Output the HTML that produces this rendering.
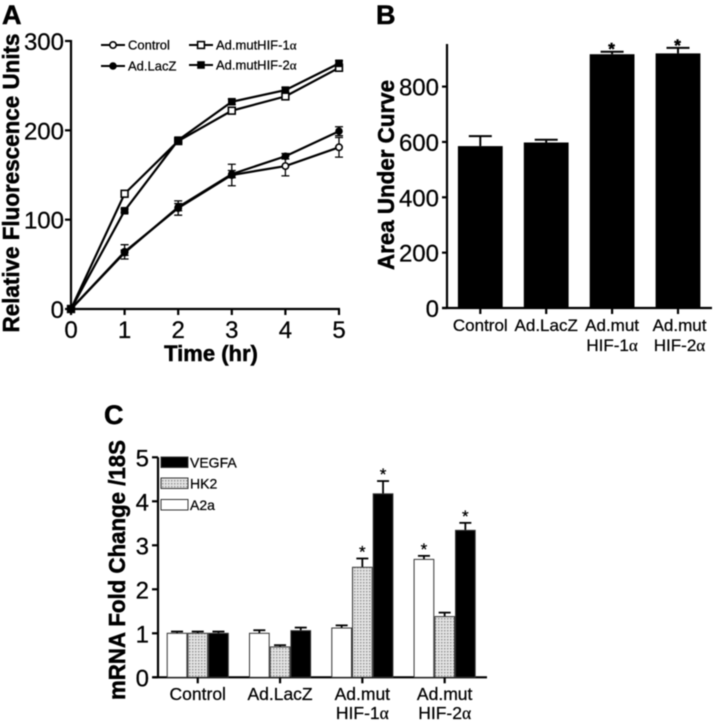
<!DOCTYPE html>
<html>
<head>
<meta charset="utf-8">
<style>
html,body{margin:0;padding:0;background:#fff;}
svg{display:block;filter:blur(0.45px);}
text{font-family:"Liberation Sans",sans-serif;fill:#000;stroke:#000;stroke-width:0.25px;}
text[font-weight="bold"]{stroke-width:0.5px;}
</style>
</head>
<body>
<svg id="fig" width="714" height="722" viewBox="0 0 714 722" xmlns="http://www.w3.org/2000/svg">
<defs>
<pattern id="dots" width="3" height="3" patternUnits="userSpaceOnUse">
<rect width="3" height="3" fill="#e4e4e4"></rect>
<rect x="0" y="0" width="1.5" height="1.5" fill="#9a9a9a"></rect>
</pattern>
</defs>
</svg>
<script>
// Panel A data
const timeCategories = [0, 1, 2, 3, 4, 5];
const controlValues = [0, 64, 113, 150, 160, 181];
const controlErrors = [0, 8, 8, 12, 11, 11];
const lacZValues = [0, 63, 114, 151, 171, 199];
const lacZErrors = [0, 3, 4, 4, 3, 5];
const mut1Values = [0, 129, 188, 222, 238, 270];
const mut1Errors = [0, 2, 2, 3, 3, 3];
const mut2Values = [0, 110, 189, 232, 245, 275];
const mut2Errors = [0, 2, 2, 3, 3, 3];
const aYTicks = [0, 100, 200, 300];
// Panel B data
const aucCategories = [["Control"], ["Ad.LacZ"], ["Ad.mut", "HIF-1"], ["Ad.mut", "HIF-2"]];
const aucValues = [585, 598, 917, 920];
const aucErrors = [36, 10, 9, 20];
const aucStars = [false, false, true, true];
const bYTicks = [0, 200, 400, 600, 800];
// Panel C data
const mrnaCategories = [["Control"], ["Ad.LacZ"], ["Ad.mut", "HIF-1"], ["Ad.mut", "HIF-2"]];
const a2aValues = [1, 1, 1.12, 2.68];
const a2aErrors = [0.04, 0.07, 0.06, 0.08];
const a2aStars = [false, false, false, true];
const hk2Values = [1, 0.69, 2.5, 1.38];
const hk2Errors = [0.04, 0.04, 0.2, 0.09];
const hk2Stars = [false, false, true, false];
const vegfaValues = [1, 1.06, 4.17, 3.34];
const vegfaErrors = [0.04, 0.07, 0.29, 0.17];
const vegfaStars = [false, false, true, true];
const cYTicks = [0, 1, 2, 3, 4, 5];

const svg = document.getElementById('fig');
const NS = 'http://www.w3.org/2000/svg';
function mk(tag, attrs, parent) {
  const n = document.createElementNS(NS, tag);
  for (const k in attrs) n.setAttribute(k, attrs[k]);
  (parent || svg).appendChild(n);
  return n;
}
function line(x1, y1, x2, y2, w, parent) {
  return mk('line', {x1: x1, y1: y1, x2: x2, y2: y2, stroke: '#000', 'stroke-width': w}, parent);
}
function label(str, x, y, size, anchor, bold, parent) {
  const t = mk('text', {x: x, y: y, 'font-size': size, 'text-anchor': anchor || 'start', 'font-weight': bold ? 'bold' : 'normal'}, parent);
  t.textContent = str;
  return t;
}
function alpha(t) {
  const s = mk('tspan', {style: 'font-family:"Liberation Serif",serif'}, t);
  s.textContent = 'α';
}
function vTitle(str, cx, cy, size, len) {
  const t = mk('text', {transform: 'translate(' + cx + ',' + cy + ') rotate(-90)', 'font-size': size, 'font-weight': 'bold', 'text-anchor': 'middle', textLength: len, lengthAdjust: 'spacingAndGlyphs'});
  t.textContent = str;
  return t;
}

// ---------- Panel letters ----------
const letterA = label('A', 2, 24, 27, 'start', true);


const letterB = label('B', 376, 24, 27, 'start', true);


const letterC = label('C', 104, 424, 27, 'start', true);



// ---------- Panel A ----------
const ax = v => 71 + v * 53.6;
const ay = v => 309 - v * (268 / 300);
const panelA = mk('g', {});


const aYAxis = line(71, ay(300) - 1, 71, 310, 2.2, panelA);


const aXAxis = line(70, 309, ax(5) + 1, 309, 2.2, panelA);


aYTicks.forEach(v => {
  const tick = line(65, ay(v), 71, ay(v), 2.2, panelA);
  
  
  const lab = label(String(v), 64, ay(v) + 9, 24, 'end', false, panelA);
  
  
});
timeCategories.forEach(v => {
  const tick = line(ax(v), 309, ax(v), 315, 2.2, panelA);
  
  
  const lab = label(String(v), ax(v), 338, 24, 'middle', false, panelA);
  
  
});
const aYTitle = vTitle('Relative Fluorescence Units', 19, 183, 23, 299);


const aXTitle = label('Time (hr)', 211, 361, 22, 'middle', true);



function marker(kind, x, y, parent) {
  if (kind === 'open-circle') return mk('circle', {cx: x, cy: y, r: 3.2, fill: '#fff', stroke: '#000', 'stroke-width': 1.6}, parent);
  if (kind === 'solid-circle') return mk('circle', {cx: x, cy: y, r: 3.8, fill: '#000'}, parent);
  if (kind === 'open-square') return mk('rect', {x: x - 3.4, y: y - 3.4, width: 6.8, height: 6.8, fill: '#fff', stroke: '#000', 'stroke-width': 1.6}, parent);
  return mk('rect', {x: x - 3.8, y: y - 3.8, width: 7.6, height: 7.6, fill: '#000'}, parent);
}
function drawSeries(name, values, errors, kind) {
  const g = mk('g', {}, panelA);
  
  
  const pts = values.map((v, i) => ax(timeCategories[i]) + ',' + ay(v)).join(' ');
  const path = mk('polyline', {points: pts, fill: 'none', stroke: '#000', 'stroke-width': 2.2}, g);
  
  
  values.forEach((v, i) => {
    const x = ax(timeCategories[i]);
    const e = errors[i];
    if (e > 0) {
      const bar = mk('path', {d: 'M' + (x - 4) + ' ' + ay(v + e) + 'H' + (x + 4) + 'M' + x + ' ' + ay(v + e) + 'V' + ay(v - e) + 'M' + (x - 4) + ' ' + ay(v - e) + 'H' + (x + 4), stroke: '#000', 'stroke-width': 1.3, fill: 'none'}, g);
      
      
    }
    const m = marker(kind, x, ay(v), g);
    
    
  });
}
drawSeries('control', controlValues, controlErrors, 'open-circle');
drawSeries('ad-lacz', lacZValues, lacZErrors, 'solid-circle');
drawSeries('ad-mut-hif-1a', mut1Values, mut1Errors, 'open-square');
drawSeries('ad-mut-hif-2a', mut2Values, mut2Errors, 'solid-square');

function legendA(name, text, kind, x, y, hasAlpha) {
  const g = mk('g', {}, panelA);
  
  
  line(x, y, x + 24, y, 2, g);
  marker(kind, x + 12, y, g);
  const t = label(text, x + 27, y + 4.5, 13, 'start', false, g);
  if (hasAlpha) alpha(t);
}
legendA('legend-control', 'Control', 'open-circle', 101, 45, false);
legendA('legend-ad-lacz', 'Ad.LacZ', 'solid-circle', 101, 66, false);
legendA('legend-ad-mut-hif-1a', 'Ad.mutHIF-1', 'open-square', 189, 45, true);
legendA('legend-ad-mut-hif-2a', 'Ad.mutHIF-2', 'solid-square', 189, 65, true);

// ---------- Panel B ----------
const by = v => 308 - v * (221.4 / 800);
const bx = i => 480.3 + i * 65.9;
const panelB = mk('g', {});


const bYAxis = line(447, 44, 447, 309, 2.2, panelB);


const bXAxis = line(442, 308, 712, 308, 2.2, panelB);


bYTicks.forEach(v => {
  const tick = line(442, by(v), 447, by(v), 2.2, panelB);
  
  
  const lab = label(String(v), 439, by(v) + 9, 24, 'end', false, panelB);
  
  
});
aucValues.forEach((v, i) => {
  const cx = bx(i);
  const err = line(cx, by(v), cx, by(v + aucErrors[i]), 2, panelB);
  
  
  const cap = line(cx - 11.5, by(v + aucErrors[i]), cx + 11.5, by(v + aucErrors[i]), 2, panelB);
  
  
  const bar = mk('rect', {x: cx - 22.4, y: by(v), width: 44.8, height: by(0) - by(v), fill: '#000'}, panelB);
  
  
  const tick = line(cx, 308, cx, 314, 2.2, panelB);
  
  
  if (aucStars[i]) {
    const star = label('*', cx - 0.5, by(v + aucErrors[i]) + 3, 17, 'middle', true, panelB);
    
    
  }
  aucCategories[i].forEach((s, j) => {
    const t = label(s, cx + (i === 3 ? 1.5 : 0), 331 + j * 20, 17, 'middle', false, panelB);
    if (j === 1) alpha(t);
    
    
  });
});
const bYTitle = vTitle('Area Under Curve', 394, 175, 23, 190);



// ---------- Panel C ----------
const cy = v => 677.3 - v * 44;
const cGroupX = i => 166.7 + i * 82.3;
const barW = 20.7;
const panelC = mk('g', {});


const cYAxis = line(158, cy(5), 158, 678, 2.2, panelC);


const cXAxis = line(153, cy(0), 487, cy(0), 2.2, panelC);


cYTicks.forEach(v => {
  const tick = line(152, cy(v), 158, cy(v), 2.2, panelC);
  
  
  const lab = label(String(v), 149, cy(v) + 9, 24, 'end', false, panelC);
  
  
});
function drawBars(name, values, errors, stars, offset, fill) {
  values.forEach((v, i) => {
    const x = cGroupX(i) + offset * barW;
    const mid = x + barW / 2;
    const err = line(mid, cy(v), mid, cy(v + errors[i]), 1.8, panelC);
    
    
    const cap = line(mid - 6, cy(v + errors[i]), mid + 6, cy(v + errors[i]), 1.8, panelC);
    
    
    const bar = mk('rect', {x: x + 0.5, y: cy(v), width: barW - 1, height: cy(0) - cy(v), fill: fill, stroke: '#333', 'stroke-width': 1}, panelC);
    
    
    if (stars[i]) {
      const star = label('*', mid, cy(v + errors[i]) - 1, 17, 'middle', false, panelC);
      
      
    }
  });
}
drawBars('a2a', a2aValues, a2aErrors, a2aStars, 0, '#fff');
drawBars('hk2', hk2Values, hk2Errors, hk2Stars, 1, 'url(#dots)');
drawBars('vegfa', vegfaValues, vegfaErrors, vegfaStars, 2, '#000');
mrnaCategories.forEach((lines, i) => {
  const cx = cGroupX(i) + 1.5 * barW;
  const tick = line(cx, cy(0), cx, cy(0) + 6, 2.2, panelC);
  
  
  lines.forEach((s, j) => {
    const t = label(s, cx, 700 + j * 19, 17.5, 'middle', false, panelC);
    if (j === 1) alpha(t);
    
    
  });
});
const cYTitle = vTitle('mRNA Fold Change /18S', 125, 570, 23, 260);


function legendC(name, text, y, fill) {
  const g = mk('g', {}, panelC);
  
  
  mk('rect', {x: 161, y: y, width: 27, height: 10.5, fill: fill, stroke: '#333', 'stroke-width': 1}, g);
  label(text, 190, y + 10.5, 14, 'start', false, g);
}
legendC('legend-vegfa', 'VEGFA', 457, '#000');
legendC('legend-hk2', 'HK2', 478, 'url(#dots)');
legendC('legend-a2a', 'A2a', 499.5, '#fff');
</script>
</body>
</html>
